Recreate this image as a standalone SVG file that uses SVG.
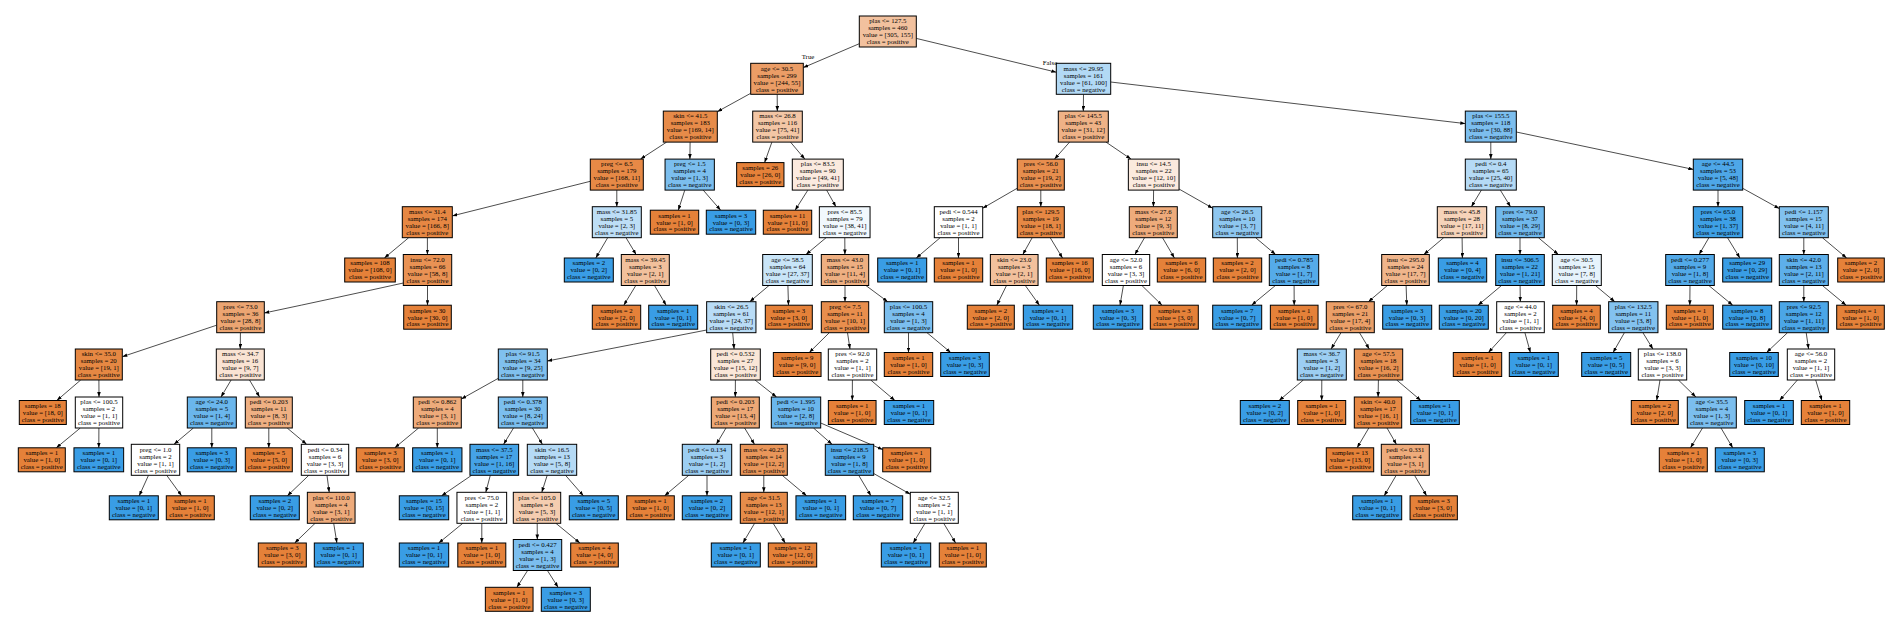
<svg xmlns="http://www.w3.org/2000/svg" width="1903" height="622" viewBox="0 0 1903 622">
<style>
.nd rect{stroke:#000;stroke-width:1}
.nd text,.lb{font-family:"Liberation Serif","Times New Roman",serif;font-size:6.8px;text-anchor:middle;fill:#000}
.o{fill:#e58139}.b{fill:#399de5}.w{fill:#ffffff}
.e path{stroke:#000;stroke-width:0.7;fill:none}
</style>
<defs>
<marker id="arr" markerUnits="userSpaceOnUse" markerWidth="5" markerHeight="3.6" refX="5" refY="1.8" orient="auto" viewBox="0 0 5 3.6"><path d="M0,0L5,1.8L0,3.6z" fill="#000" stroke="none"/></marker>
</defs>
<rect width="1903" height="622" fill="#fff"/>
<g id="connectors" class="e">
<path d="M859.3,43.7L803.3,67.6" marker-end="url(#arr)"/>
<path d="M916.3,38.4L1056.3,72.2" marker-end="url(#arr)"/>
<path d="M750.7,93.3L717.3,111.7" marker-end="url(#arr)"/>
<path d="M777.2,94.3L777.3,111.1" marker-end="url(#arr)"/>
<path d="M666.6,142.1L640.5,159.1" marker-end="url(#arr)"/>
<path d="M690.1,142.1L689.9,159.1" marker-end="url(#arr)"/>
<path d="M771.9,142.1L764.6,162.6" marker-end="url(#arr)"/>
<path d="M790.5,142.1L804.8,159.1" marker-end="url(#arr)"/>
<path d="M590.3,181.3L452.3,215.9" marker-end="url(#arr)"/>
<path d="M616.8,190.1L616.8,206.7" marker-end="url(#arr)"/>
<path d="M684.8,190.1L678.3,210.2" marker-end="url(#arr)"/>
<path d="M703.2,190.1L720.6,210.2" marker-end="url(#arr)"/>
<path d="M807.9,190.1L795.1,210.2" marker-end="url(#arr)"/>
<path d="M826.6,190.1L835.9,206.7" marker-end="url(#arr)"/>
<path d="M408.7,237.7L384.4,258" marker-end="url(#arr)"/>
<path d="M427.4,237.7L427.4,254.5" marker-end="url(#arr)"/>
<path d="M607.7,237.7L595.8,258" marker-end="url(#arr)"/>
<path d="M626,237.7L636.1,254.5" marker-end="url(#arr)"/>
<path d="M826.1,237.7L806,254.5" marker-end="url(#arr)"/>
<path d="M844.8,237.7L844.9,254.5" marker-end="url(#arr)"/>
<path d="M403.3,283Q340,297 264.3,313" marker-end="url(#arr)"/>
<path d="M427.5,285.5L427.5,305.2" marker-end="url(#arr)"/>
<path d="M635.8,285.5L623.8,305.2" marker-end="url(#arr)"/>
<path d="M654.5,285.5L666.1,305.2" marker-end="url(#arr)"/>
<path d="M769,285.5L749.8,301.7" marker-end="url(#arr)"/>
<path d="M787.9,285.5L788.5,305.2" marker-end="url(#arr)"/>
<path d="M845,285.5L845,301.7" marker-end="url(#arr)"/>
<path d="M865.9,285.5L887.7,301.7" marker-end="url(#arr)"/>
<path d="M216.7,325.2L122.3,356.7" marker-end="url(#arr)"/>
<path d="M240.4,332.7L240.3,349" marker-end="url(#arr)"/>
<path d="M706.7,330Q640,343 547.3,361" marker-end="url(#arr)"/>
<path d="M732.7,332.7L734.1,349" marker-end="url(#arr)"/>
<path d="M829.3,332.7L809.3,352.5" marker-end="url(#arr)"/>
<path d="M847.5,332.7L850,349" marker-end="url(#arr)"/>
<path d="M908.5,332.7L908.5,352.5" marker-end="url(#arr)"/>
<path d="M927,332.7L950.7,352.5" marker-end="url(#arr)"/>
<path d="M80.7,380L56.8,400.5" marker-end="url(#arr)"/>
<path d="M98.9,380L99,397" marker-end="url(#arr)"/>
<path d="M231.1,380L221,397" marker-end="url(#arr)"/>
<path d="M249.5,380L259.6,397" marker-end="url(#arr)"/>
<path d="M498.3,378.3L461.3,399" marker-end="url(#arr)"/>
<path d="M522.8,380L522.8,397" marker-end="url(#arr)"/>
<path d="M735.4,380L735.3,397" marker-end="url(#arr)"/>
<path d="M755,380L776.5,397" marker-end="url(#arr)"/>
<path d="M852.4,380L852.3,400.5" marker-end="url(#arr)"/>
<path d="M870.7,380L894.9,400.5" marker-end="url(#arr)"/>
<path d="M80.3,428L56.3,447.8" marker-end="url(#arr)"/>
<path d="M98.9,428L98.8,447.8" marker-end="url(#arr)"/>
<path d="M193.4,428L174,444.3" marker-end="url(#arr)"/>
<path d="M211.8,428L211.8,447.8" marker-end="url(#arr)"/>
<path d="M268.8,428L268.8,447.8" marker-end="url(#arr)"/>
<path d="M287.2,428L306.6,444.3" marker-end="url(#arr)"/>
<path d="M418.6,428L394.8,447.8" marker-end="url(#arr)"/>
<path d="M437.3,428L437.3,447.8" marker-end="url(#arr)"/>
<path d="M513.5,428L503.6,444.3" marker-end="url(#arr)"/>
<path d="M532.4,428L542.4,444.3" marker-end="url(#arr)"/>
<path d="M726,428L716.3,444.3" marker-end="url(#arr)"/>
<path d="M744.6,428L754.5,444.3" marker-end="url(#arr)"/>
<path d="M813.5,428L832,444.3" marker-end="url(#arr)"/>
<path d="M820.7,423L882.7,449.6" marker-end="url(#arr)"/>
<path d="M148.5,475.3L139.2,495.8" marker-end="url(#arr)"/>
<path d="M166.7,475.3L181.6,495.8" marker-end="url(#arr)"/>
<path d="M308.8,475.3L287.4,495.8" marker-end="url(#arr)"/>
<path d="M327,475.3L329.2,492.3" marker-end="url(#arr)"/>
<path d="M471.6,475.3L441.6,495.8" marker-end="url(#arr)"/>
<path d="M490.3,475.3L485.8,492.3" marker-end="url(#arr)"/>
<path d="M547.2,475.3L541.8,492.3" marker-end="url(#arr)"/>
<path d="M565.5,475.3L583.4,495.8" marker-end="url(#arr)"/>
<path d="M688.8,475.3L664.6,495.8" marker-end="url(#arr)"/>
<path d="M707,475.3L707,495.8" marker-end="url(#arr)"/>
<path d="M763.8,475.3L763.8,492.3" marker-end="url(#arr)"/>
<path d="M782.2,475.3L806.6,495.8" marker-end="url(#arr)"/>
<path d="M858.7,475.3L870.9,495.8" marker-end="url(#arr)"/>
<path d="M873.7,473.5L910.3,494.2" marker-end="url(#arr)"/>
<path d="M315.1,523.3L294.7,543" marker-end="url(#arr)"/>
<path d="M333.7,523.3L336.9,543" marker-end="url(#arr)"/>
<path d="M462.8,523.3L438.7,543" marker-end="url(#arr)"/>
<path d="M481.8,523.3L481.8,543" marker-end="url(#arr)"/>
<path d="M537.2,523.3L537.3,539.5" marker-end="url(#arr)"/>
<path d="M555.9,523.3L579.9,543" marker-end="url(#arr)"/>
<path d="M754.6,523.3L742.9,543" marker-end="url(#arr)"/>
<path d="M773.2,523.3L785.2,543" marker-end="url(#arr)"/>
<path d="M925,523.3L913.2,543" marker-end="url(#arr)"/>
<path d="M943.7,523.3L955.6,543" marker-end="url(#arr)"/>
<path d="M527.6,570.5L516.9,587.3" marker-end="url(#arr)"/>
<path d="M547.4,570.5L558.1,587.3" marker-end="url(#arr)"/>
<path d="M1083.5,94.3L1083.3,111.1" marker-end="url(#arr)"/>
<path d="M1110.7,82L1465.3,123.6" marker-end="url(#arr)"/>
<path d="M1069.6,142.1L1054.5,159.1" marker-end="url(#arr)"/>
<path d="M1106,142.1L1131,159.1" marker-end="url(#arr)"/>
<path d="M1490.8,142.1L1490.8,159.1" marker-end="url(#arr)"/>
<path d="M1516.3,132L1693.3,169.4" marker-end="url(#arr)"/>
<path d="M1017.3,188.2L982.7,208.2" marker-end="url(#arr)"/>
<path d="M1040.8,190.1L1040.8,206.7" marker-end="url(#arr)"/>
<path d="M1153.6,190.1L1153.4,206.7" marker-end="url(#arr)"/>
<path d="M1179,189L1212.7,208.2" marker-end="url(#arr)"/>
<path d="M1481.4,190.1L1471.4,206.7" marker-end="url(#arr)"/>
<path d="M1500.3,190.1L1510.5,206.7" marker-end="url(#arr)"/>
<path d="M1718,190.1L1718,206.7" marker-end="url(#arr)"/>
<path d="M1742.7,188.3L1779.3,208.6" marker-end="url(#arr)"/>
<path d="M940.2,237.7L916.3,258" marker-end="url(#arr)"/>
<path d="M958.5,237.7L958.5,258" marker-end="url(#arr)"/>
<path d="M1032.2,237.7L1022.8,254.5" marker-end="url(#arr)"/>
<path d="M1050.2,237.7L1062.5,258" marker-end="url(#arr)"/>
<path d="M1144.5,237.7L1134.9,254.5" marker-end="url(#arr)"/>
<path d="M1162.5,237.7L1174.4,258" marker-end="url(#arr)"/>
<path d="M1237.3,237.7L1237.4,258" marker-end="url(#arr)"/>
<path d="M1255.6,237.7L1275.6,254.5" marker-end="url(#arr)"/>
<path d="M1443.7,237.7L1423.8,254.5" marker-end="url(#arr)"/>
<path d="M1462.1,237.7L1462.4,258" marker-end="url(#arr)"/>
<path d="M1520,237.7L1520,254.5" marker-end="url(#arr)"/>
<path d="M1538.4,237.7L1558.4,254.5" marker-end="url(#arr)"/>
<path d="M1708.9,237.7L1699.1,254.5" marker-end="url(#arr)"/>
<path d="M1727.5,237.7L1739.9,258" marker-end="url(#arr)"/>
<path d="M1803.8,237.7L1803.8,254.5" marker-end="url(#arr)"/>
<path d="M1822.4,237.7L1846.6,258" marker-end="url(#arr)"/>
<path d="M1006.5,285.5L996.8,305.2" marker-end="url(#arr)"/>
<path d="M1025.3,285.5L1039.4,305.2" marker-end="url(#arr)"/>
<path d="M1123.4,285.5L1120,305.2" marker-end="url(#arr)"/>
<path d="M1141.9,285.5L1162,305.2" marker-end="url(#arr)"/>
<path d="M1275.4,285.5L1251.6,305.2" marker-end="url(#arr)"/>
<path d="M1294.1,285.5L1294.2,305.2" marker-end="url(#arr)"/>
<path d="M1387.4,285.5L1368.4,301.7" marker-end="url(#arr)"/>
<path d="M1406.1,285.5L1406.8,305.2" marker-end="url(#arr)"/>
<path d="M1501.5,285.5L1478.1,305.2" marker-end="url(#arr)"/>
<path d="M1520.1,285.5L1520.3,301.7" marker-end="url(#arr)"/>
<path d="M1576.7,285.5L1576.6,305.2" marker-end="url(#arr)"/>
<path d="M1595.4,285.5L1614.8,301.7" marker-end="url(#arr)"/>
<path d="M1690,285.5L1689.8,305.2" marker-end="url(#arr)"/>
<path d="M1708.8,285.5L1732.7,305.2" marker-end="url(#arr)"/>
<path d="M1803.8,285.5L1803.8,301.7" marker-end="url(#arr)"/>
<path d="M1822.4,285.5L1846.1,305.2" marker-end="url(#arr)"/>
<path d="M1341,332.7L1331.1,349" marker-end="url(#arr)"/>
<path d="M1359.5,332.7L1369.3,349" marker-end="url(#arr)"/>
<path d="M1506.4,332.7L1488.4,352.5" marker-end="url(#arr)"/>
<path d="M1524.9,332.7L1530.4,352.5" marker-end="url(#arr)"/>
<path d="M1624.4,332.7L1613.1,352.5" marker-end="url(#arr)"/>
<path d="M1642.9,332.7L1652.9,349" marker-end="url(#arr)"/>
<path d="M1787.5,332.7L1766.6,352.5" marker-end="url(#arr)"/>
<path d="M1806.2,332.7L1808.6,349" marker-end="url(#arr)"/>
<path d="M1303.4,380L1279.1,400.5" marker-end="url(#arr)"/>
<path d="M1321.8,380L1321.7,400.5" marker-end="url(#arr)"/>
<path d="M1378.4,380L1378.1,397" marker-end="url(#arr)"/>
<path d="M1396.7,380L1420.9,400.5" marker-end="url(#arr)"/>
<path d="M1660,380L1656.7,400.5" marker-end="url(#arr)"/>
<path d="M1678.4,380L1695.9,397" marker-end="url(#arr)"/>
<path d="M1797.4,380L1779.5,400.5" marker-end="url(#arr)"/>
<path d="M1815.7,380L1821.9,400.5" marker-end="url(#arr)"/>
<path d="M1368.8,428L1357.1,447.8" marker-end="url(#arr)"/>
<path d="M1387,428L1396.4,444.3" marker-end="url(#arr)"/>
<path d="M1702.5,428L1690.5,447.8" marker-end="url(#arr)"/>
<path d="M1721,428L1732.7,447.8" marker-end="url(#arr)"/>
<path d="M1396.2,475.3L1384.2,495.8" marker-end="url(#arr)"/>
<path d="M1414.5,475.3L1426.6,495.8" marker-end="url(#arr)"/>
<text class="lb" x="808" y="59.2">True</text>
<text class="lb" x="1050" y="64.6">False</text>
</g>
<g id="n0" class="nd" transform="translate(887.8 31.5)"><rect x="-28.5" y="-15.5" width="57" height="31" fill="#f2c19e"/><text><tspan x="0" y="-8.2">plas &lt;= 127.5</tspan><tspan x="0" y="-1.2">samples = 460</tspan><tspan x="0" y="5.8">value = [305, 155]</tspan><tspan x="0" y="12.8">class = positive</tspan></text></g>
<g id="n1" class="nd" transform="translate(777 78.8)"><rect x="-26.3" y="-15.5" width="52.6" height="31" fill="#eb9d66"/><text><tspan x="0" y="-8.2">age &lt;= 30.5</tspan><tspan x="0" y="-1.2">samples = 299</tspan><tspan x="0" y="5.8">value = [244, 55]</tspan><tspan x="0" y="12.8">class = positive</tspan></text></g>
<g id="n2" class="nd" transform="translate(690.3 126.6)"><rect x="-27" y="-15.5" width="54" height="31" fill="#e78b49"/><text><tspan x="0" y="-8.2">skin &lt;= 41.5</tspan><tspan x="0" y="-1.2">samples = 183</tspan><tspan x="0" y="5.8">value = [169, 14]</tspan><tspan x="0" y="12.8">class = positive</tspan></text></g>
<g id="n3" class="nd" transform="translate(616.8 174.6)"><rect x="-26.5" y="-15.5" width="53" height="31" fill="#e78946"/><text><tspan x="0" y="-8.2">preg &lt;= 6.5</tspan><tspan x="0" y="-1.2">samples = 179</tspan><tspan x="0" y="5.8">value = [168, 11]</tspan><tspan x="0" y="12.8">class = positive</tspan></text></g>
<g id="n4" class="nd" transform="translate(427.3 222.2)"><rect x="-25" y="-15.5" width="50" height="31" fill="#e68743"/><text><tspan x="0" y="-8.2">mass &lt;= 31.4</tspan><tspan x="0" y="-1.2">samples = 174</tspan><tspan x="0" y="5.8">value = [166, 8]</tspan><tspan x="0" y="12.8">class = positive</tspan></text></g>
<g id="n5" class="nd" transform="translate(370 270)"><rect class="o" x="-25.3" y="-12" width="50.6" height="24"/><text><tspan x="0" y="-4.7">samples = 108</tspan><tspan x="0" y="2.3">value = [108, 0]</tspan><tspan x="0" y="9.3">class = positive</tspan></text></g>
<g id="n6" class="nd" transform="translate(427.5 270)"><rect x="-24.2" y="-15.5" width="48.4" height="31" fill="#e99254"/><text><tspan x="0" y="-8.2">insu &lt;= 72.0</tspan><tspan x="0" y="-1.2">samples = 66</tspan><tspan x="0" y="5.8">value = [58, 8]</tspan><tspan x="0" y="12.8">class = positive</tspan></text></g>
<g id="n7" class="nd" transform="translate(240.5 317.2)"><rect x="-23.8" y="-15.5" width="47.6" height="31" fill="#eca572"/><text><tspan x="0" y="-8.2">pres &lt;= 73.0</tspan><tspan x="0" y="-1.2">samples = 36</tspan><tspan x="0" y="5.8">value = [28, 8]</tspan><tspan x="0" y="12.8">class = positive</tspan></text></g>
<g id="n8" class="nd" transform="translate(98.8 364.5)"><rect x="-23.5" y="-15.5" width="47" height="31" fill="#e68843"/><text><tspan x="0" y="-8.2">skin &lt;= 35.0</tspan><tspan x="0" y="-1.2">samples = 20</tspan><tspan x="0" y="5.8">value = [19, 1]</tspan><tspan x="0" y="12.8">class = positive</tspan></text></g>
<g id="n9" class="nd" transform="translate(42.8 412.5)"><rect class="o" x="-23.5" y="-12" width="47" height="24"/><text><tspan x="0" y="-4.7">samples = 18</tspan><tspan x="0" y="2.3">value = [18, 0]</tspan><tspan x="0" y="9.3">class = positive</tspan></text></g>
<g id="n10" class="nd" transform="translate(99 412.5)"><rect class="w" x="-23.7" y="-15.5" width="47.4" height="31"/><text><tspan x="0" y="-8.2">plas &lt;= 100.5</tspan><tspan x="0" y="-1.2">samples = 2</tspan><tspan x="0" y="5.8">value = [1, 1]</tspan><tspan x="0" y="12.8">class = positive</tspan></text></g>
<g id="n11" class="nd" transform="translate(41.8 459.8)"><rect class="o" x="-23.5" y="-12" width="47" height="24"/><text><tspan x="0" y="-4.7">samples = 1</tspan><tspan x="0" y="2.3">value = [1, 0]</tspan><tspan x="0" y="9.3">class = positive</tspan></text></g>
<g id="n12" class="nd" transform="translate(98.8 459.8)"><rect class="b" x="-24.85" y="-12" width="49.7" height="24"/><text><tspan x="0" y="-4.7">samples = 1</tspan><tspan x="0" y="2.3">value = [0, 1]</tspan><tspan x="0" y="9.3">class = negative</tspan></text></g>
<g id="n13" class="nd" transform="translate(240.3 364.5)"><rect x="-24" y="-15.5" width="48" height="31" fill="#f9e3d3"/><text><tspan x="0" y="-8.2">mass &lt;= 34.7</tspan><tspan x="0" y="-1.2">samples = 16</tspan><tspan x="0" y="5.8">value = [9, 7]</tspan><tspan x="0" y="12.8">class = positive</tspan></text></g>
<g id="n14" class="nd" transform="translate(211.8 412.5)"><rect x="-24.5" y="-15.5" width="49" height="31" fill="#6ab6ec"/><text><tspan x="0" y="-8.2">age &lt;= 24.0</tspan><tspan x="0" y="-1.2">samples = 5</tspan><tspan x="0" y="5.8">value = [1, 4]</tspan><tspan x="0" y="12.8">class = negative</tspan></text></g>
<g id="n15" class="nd" transform="translate(155.5 459.8)"><rect class="w" x="-24.2" y="-15.5" width="48.4" height="31"/><text><tspan x="0" y="-8.2">preg &lt;= 1.0</tspan><tspan x="0" y="-1.2">samples = 2</tspan><tspan x="0" y="5.8">value = [1, 1]</tspan><tspan x="0" y="12.8">class = positive</tspan></text></g>
<g id="n16" class="nd" transform="translate(133.8 507.8)"><rect class="b" x="-24.5" y="-12" width="49" height="24"/><text><tspan x="0" y="-4.7">samples = 1</tspan><tspan x="0" y="2.3">value = [0, 1]</tspan><tspan x="0" y="9.3">class = negative</tspan></text></g>
<g id="n17" class="nd" transform="translate(190.3 507.8)"><rect class="o" x="-24" y="-12" width="48" height="24"/><text><tspan x="0" y="-4.7">samples = 1</tspan><tspan x="0" y="2.3">value = [1, 0]</tspan><tspan x="0" y="9.3">class = positive</tspan></text></g>
<g id="n18" class="nd" transform="translate(211.8 459.8)"><rect class="b" x="-24.5" y="-12" width="49" height="24"/><text><tspan x="0" y="-4.7">samples = 3</tspan><tspan x="0" y="2.3">value = [0, 3]</tspan><tspan x="0" y="9.3">class = negative</tspan></text></g>
<g id="n19" class="nd" transform="translate(268.8 412.5)"><rect x="-23.5" y="-15.5" width="47" height="31" fill="#efb083"/><text><tspan x="0" y="-8.2">pedi &lt;= 0.203</tspan><tspan x="0" y="-1.2">samples = 11</tspan><tspan x="0" y="5.8">value = [8, 3]</tspan><tspan x="0" y="12.8">class = positive</tspan></text></g>
<g id="n20" class="nd" transform="translate(268.8 459.8)"><rect class="o" x="-23.5" y="-12" width="47" height="24"/><text><tspan x="0" y="-4.7">samples = 5</tspan><tspan x="0" y="2.3">value = [5, 0]</tspan><tspan x="0" y="9.3">class = positive</tspan></text></g>
<g id="n21" class="nd" transform="translate(325 459.8)"><rect class="w" x="-23.7" y="-15.5" width="47.4" height="31"/><text><tspan x="0" y="-8.2">pedi &lt;= 0.34</tspan><tspan x="0" y="-1.2">samples = 6</tspan><tspan x="0" y="5.8">value = [3, 3]</tspan><tspan x="0" y="12.8">class = positive</tspan></text></g>
<g id="n22" class="nd" transform="translate(274.8 507.8)"><rect class="b" x="-24.5" y="-12" width="49" height="24"/><text><tspan x="0" y="-4.7">samples = 2</tspan><tspan x="0" y="2.3">value = [0, 2]</tspan><tspan x="0" y="9.3">class = negative</tspan></text></g>
<g id="n23" class="nd" transform="translate(331.2 507.8)"><rect x="-23.85" y="-15.5" width="47.7" height="31" fill="#eeab7b"/><text><tspan x="0" y="-8.2">plas &lt;= 110.0</tspan><tspan x="0" y="-1.2">samples = 4</tspan><tspan x="0" y="5.8">value = [3, 1]</tspan><tspan x="0" y="12.8">class = positive</tspan></text></g>
<g id="n24" class="nd" transform="translate(282.3 555)"><rect class="o" x="-24" y="-12" width="48" height="24"/><text><tspan x="0" y="-4.7">samples = 3</tspan><tspan x="0" y="2.3">value = [3, 0]</tspan><tspan x="0" y="9.3">class = positive</tspan></text></g>
<g id="n25" class="nd" transform="translate(338.8 555)"><rect class="b" x="-24.5" y="-12" width="49" height="24"/><text><tspan x="0" y="-4.7">samples = 1</tspan><tspan x="0" y="2.3">value = [0, 1]</tspan><tspan x="0" y="9.3">class = negative</tspan></text></g>
<g id="n26" class="nd" transform="translate(427.5 317.2)"><rect class="o" x="-23.8" y="-12" width="47.6" height="24"/><text><tspan x="0" y="-4.7">samples = 30</tspan><tspan x="0" y="2.3">value = [30, 0]</tspan><tspan x="0" y="9.3">class = positive</tspan></text></g>
<g id="n27" class="nd" transform="translate(616.8 222.2)"><rect x="-24.5" y="-15.5" width="49" height="31" fill="#bddef6"/><text><tspan x="0" y="-8.2">mass &lt;= 31.85</tspan><tspan x="0" y="-1.2">samples = 5</tspan><tspan x="0" y="5.8">value = [2, 3]</tspan><tspan x="0" y="12.8">class = negative</tspan></text></g>
<g id="n28" class="nd" transform="translate(588.8 270)"><rect class="b" x="-24.5" y="-12" width="49" height="24"/><text><tspan x="0" y="-4.7">samples = 2</tspan><tspan x="0" y="2.3">value = [0, 2]</tspan><tspan x="0" y="9.3">class = negative</tspan></text></g>
<g id="n29" class="nd" transform="translate(645.3 270)"><rect x="-24" y="-15.5" width="48" height="31" fill="#f2c09c"/><text><tspan x="0" y="-8.2">mass &lt;= 39.45</tspan><tspan x="0" y="-1.2">samples = 3</tspan><tspan x="0" y="5.8">value = [2, 1]</tspan><tspan x="0" y="12.8">class = positive</tspan></text></g>
<g id="n30" class="nd" transform="translate(616.5 317.2)"><rect class="o" x="-24.2" y="-12" width="48.4" height="24"/><text><tspan x="0" y="-4.7">samples = 2</tspan><tspan x="0" y="2.3">value = [2, 0]</tspan><tspan x="0" y="9.3">class = positive</tspan></text></g>
<g id="n31" class="nd" transform="translate(673.2 317.2)"><rect class="b" x="-24.5" y="-12" width="49" height="24"/><text><tspan x="0" y="-4.7">samples = 1</tspan><tspan x="0" y="2.3">value = [0, 1]</tspan><tspan x="0" y="9.3">class = negative</tspan></text></g>
<g id="n32" class="nd" transform="translate(689.7 174.6)"><rect x="-24.65" y="-15.5" width="49.3" height="31" fill="#7bbeee"/><text><tspan x="0" y="-8.2">preg &lt;= 1.5</tspan><tspan x="0" y="-1.2">samples = 4</tspan><tspan x="0" y="5.8">value = [1, 3]</tspan><tspan x="0" y="12.8">class = negative</tspan></text></g>
<g id="n33" class="nd" transform="translate(674.5 222.2)"><rect class="o" x="-24.2" y="-12" width="48.4" height="24"/><text><tspan x="0" y="-4.7">samples = 1</tspan><tspan x="0" y="2.3">value = [1, 0]</tspan><tspan x="0" y="9.3">class = positive</tspan></text></g>
<g id="n34" class="nd" transform="translate(731 222.2)"><rect class="b" x="-24.7" y="-12" width="49.4" height="24"/><text><tspan x="0" y="-4.7">samples = 3</tspan><tspan x="0" y="2.3">value = [0, 3]</tspan><tspan x="0" y="9.3">class = negative</tspan></text></g>
<g id="n35" class="nd" transform="translate(777.5 126.6)"><rect x="-24.8" y="-15.5" width="49.6" height="31" fill="#f3c6a5"/><text><tspan x="0" y="-8.2">mass &lt;= 26.8</tspan><tspan x="0" y="-1.2">samples = 116</tspan><tspan x="0" y="5.8">value = [75, 41]</tspan><tspan x="0" y="12.8">class = positive</tspan></text></g>
<g id="n36" class="nd" transform="translate(760.3 174.6)"><rect class="o" x="-23.65" y="-12" width="47.3" height="24"/><text><tspan x="0" y="-4.7">samples = 26</tspan><tspan x="0" y="2.3">value = [26, 0]</tspan><tspan x="0" y="9.3">class = positive</tspan></text></g>
<g id="n37" class="nd" transform="translate(817.8 174.6)"><rect x="-25.5" y="-15.5" width="51" height="31" fill="#fbeadf"/><text><tspan x="0" y="-8.2">plas &lt;= 83.5</tspan><tspan x="0" y="-1.2">samples = 90</tspan><tspan x="0" y="5.8">value = [49, 41]</tspan><tspan x="0" y="12.8">class = positive</tspan></text></g>
<g id="n38" class="nd" transform="translate(787.5 222.2)"><rect class="o" x="-24.2" y="-12" width="48.4" height="24"/><text><tspan x="0" y="-4.7">samples = 11</tspan><tspan x="0" y="2.3">value = [11, 0]</tspan><tspan x="0" y="9.3">class = positive</tspan></text></g>
<g id="n39" class="nd" transform="translate(844.7 222.2)"><rect x="-25.35" y="-15.5" width="50.7" height="31" fill="#f1f8fd"/><text><tspan x="0" y="-8.2">pres &lt;= 85.5</tspan><tspan x="0" y="-1.2">samples = 79</tspan><tspan x="0" y="5.8">value = [38, 41]</tspan><tspan x="0" y="12.8">class = negative</tspan></text></g>
<g id="n40" class="nd" transform="translate(787.5 270)"><rect x="-24.8" y="-15.5" width="49.6" height="31" fill="#c9e5f8"/><text><tspan x="0" y="-8.2">age &lt;= 58.5</tspan><tspan x="0" y="-1.2">samples = 64</tspan><tspan x="0" y="5.8">value = [27, 37]</tspan><tspan x="0" y="12.8">class = negative</tspan></text></g>
<g id="n41" class="nd" transform="translate(731.3 317.2)"><rect x="-24.65" y="-15.5" width="49.3" height="31" fill="#b9dcf6"/><text><tspan x="0" y="-8.2">skin &lt;= 26.5</tspan><tspan x="0" y="-1.2">samples = 61</tspan><tspan x="0" y="5.8">value = [24, 37]</tspan><tspan x="0" y="12.8">class = negative</tspan></text></g>
<g id="n42" class="nd" transform="translate(522.8 364.5)"><rect x="-24.5" y="-15.5" width="49" height="31" fill="#80c0ee"/><text><tspan x="0" y="-8.2">plas &lt;= 91.5</tspan><tspan x="0" y="-1.2">samples = 34</tspan><tspan x="0" y="5.8">value = [9, 25]</tspan><tspan x="0" y="12.8">class = negative</tspan></text></g>
<g id="n43" class="nd" transform="translate(437.3 412.5)"><rect x="-24" y="-15.5" width="48" height="31" fill="#eeab7b"/><text><tspan x="0" y="-8.2">pedi &lt;= 0.862</tspan><tspan x="0" y="-1.2">samples = 4</tspan><tspan x="0" y="5.8">value = [3, 1]</tspan><tspan x="0" y="12.8">class = positive</tspan></text></g>
<g id="n44" class="nd" transform="translate(380.3 459.8)"><rect class="o" x="-24" y="-12" width="48" height="24"/><text><tspan x="0" y="-4.7">samples = 3</tspan><tspan x="0" y="2.3">value = [3, 0]</tspan><tspan x="0" y="9.3">class = positive</tspan></text></g>
<g id="n45" class="nd" transform="translate(437.3 459.8)"><rect class="b" x="-24.65" y="-12" width="49.3" height="24"/><text><tspan x="0" y="-4.7">samples = 1</tspan><tspan x="0" y="2.3">value = [0, 1]</tspan><tspan x="0" y="9.3">class = negative</tspan></text></g>
<g id="n46" class="nd" transform="translate(522.8 412.5)"><rect x="-24.5" y="-15.5" width="49" height="31" fill="#7bbeee"/><text><tspan x="0" y="-8.2">pedi &lt;= 0.378</tspan><tspan x="0" y="-1.2">samples = 30</tspan><tspan x="0" y="5.8">value = [8, 24]</tspan><tspan x="0" y="12.8">class = negative</tspan></text></g>
<g id="n47" class="nd" transform="translate(494.3 459.8)"><rect x="-24.35" y="-15.5" width="48.7" height="31" fill="#45a3e7"/><text><tspan x="0" y="-8.2">mass &lt;= 37.5</tspan><tspan x="0" y="-1.2">samples = 17</tspan><tspan x="0" y="5.8">value = [1, 16]</tspan><tspan x="0" y="12.8">class = negative</tspan></text></g>
<g id="n48" class="nd" transform="translate(424 507.8)"><rect class="b" x="-24.7" y="-12" width="49.4" height="24"/><text><tspan x="0" y="-4.7">samples = 15</tspan><tspan x="0" y="2.3">value = [0, 15]</tspan><tspan x="0" y="9.3">class = negative</tspan></text></g>
<g id="n49" class="nd" transform="translate(481.8 507.8)"><rect class="w" x="-24.85" y="-15.5" width="49.7" height="31"/><text><tspan x="0" y="-8.2">pres &lt;= 75.0</tspan><tspan x="0" y="-1.2">samples = 2</tspan><tspan x="0" y="5.8">value = [1, 1]</tspan><tspan x="0" y="12.8">class = positive</tspan></text></g>
<g id="n50" class="nd" transform="translate(424 555)"><rect class="b" x="-24.7" y="-12" width="49.4" height="24"/><text><tspan x="0" y="-4.7">samples = 1</tspan><tspan x="0" y="2.3">value = [0, 1]</tspan><tspan x="0" y="9.3">class = negative</tspan></text></g>
<g id="n51" class="nd" transform="translate(481.8 555)"><rect class="o" x="-24" y="-12" width="48" height="24"/><text><tspan x="0" y="-4.7">samples = 1</tspan><tspan x="0" y="2.3">value = [1, 0]</tspan><tspan x="0" y="9.3">class = positive</tspan></text></g>
<g id="n52" class="nd" transform="translate(552 459.8)"><rect x="-24.7" y="-15.5" width="49.4" height="31" fill="#b5daf5"/><text><tspan x="0" y="-8.2">skin &lt;= 16.5</tspan><tspan x="0" y="-1.2">samples = 13</tspan><tspan x="0" y="5.8">value = [5, 8]</tspan><tspan x="0" y="12.8">class = negative</tspan></text></g>
<g id="n53" class="nd" transform="translate(537 507.8)"><rect x="-23.7" y="-15.5" width="47.4" height="31" fill="#f5cdb0"/><text><tspan x="0" y="-8.2">plas &lt;= 105.0</tspan><tspan x="0" y="-1.2">samples = 8</tspan><tspan x="0" y="5.8">value = [5, 3]</tspan><tspan x="0" y="12.8">class = positive</tspan></text></g>
<g id="n54" class="nd" transform="translate(537.5 555)"><rect x="-24.2" y="-15.5" width="48.4" height="31" fill="#7bbeee"/><text><tspan x="0" y="-8.2">pedi &lt;= 0.427</tspan><tspan x="0" y="-1.2">samples = 4</tspan><tspan x="0" y="5.8">value = [1, 3]</tspan><tspan x="0" y="12.8">class = negative</tspan></text></g>
<g id="n55" class="nd" transform="translate(509.2 599.3)"><rect class="o" x="-23.85" y="-12" width="47.7" height="24"/><text><tspan x="0" y="-4.7">samples = 1</tspan><tspan x="0" y="2.3">value = [1, 0]</tspan><tspan x="0" y="9.3">class = positive</tspan></text></g>
<g id="n56" class="nd" transform="translate(565.8 599.3)"><rect class="b" x="-24.5" y="-12" width="49" height="24"/><text><tspan x="0" y="-4.7">samples = 3</tspan><tspan x="0" y="2.3">value = [0, 3]</tspan><tspan x="0" y="9.3">class = negative</tspan></text></g>
<g id="n57" class="nd" transform="translate(594.5 555)"><rect class="o" x="-23.8" y="-12" width="47.6" height="24"/><text><tspan x="0" y="-4.7">samples = 4</tspan><tspan x="0" y="2.3">value = [4, 0]</tspan><tspan x="0" y="9.3">class = positive</tspan></text></g>
<g id="n58" class="nd" transform="translate(593.8 507.8)"><rect class="b" x="-24.5" y="-12" width="49" height="24"/><text><tspan x="0" y="-4.7">samples = 5</tspan><tspan x="0" y="2.3">value = [0, 5]</tspan><tspan x="0" y="9.3">class = negative</tspan></text></g>
<g id="n59" class="nd" transform="translate(735.5 364.5)"><rect x="-24.8" y="-15.5" width="49.6" height="31" fill="#fae6d7"/><text><tspan x="0" y="-8.2">pedi &lt;= 0.532</tspan><tspan x="0" y="-1.2">samples = 27</tspan><tspan x="0" y="5.8">value = [15, 12]</tspan><tspan x="0" y="12.8">class = positive</tspan></text></g>
<g id="n60" class="nd" transform="translate(735.3 412.5)"><rect x="-24" y="-15.5" width="48" height="31" fill="#eda876"/><text><tspan x="0" y="-8.2">pedi &lt;= 0.203</tspan><tspan x="0" y="-1.2">samples = 17</tspan><tspan x="0" y="5.8">value = [13, 4]</tspan><tspan x="0" y="12.8">class = positive</tspan></text></g>
<g id="n61" class="nd" transform="translate(707 459.8)"><rect x="-24.7" y="-15.5" width="49.4" height="31" fill="#9ccef2"/><text><tspan x="0" y="-8.2">pedi &lt;= 0.134</tspan><tspan x="0" y="-1.2">samples = 3</tspan><tspan x="0" y="5.8">value = [1, 2]</tspan><tspan x="0" y="12.8">class = negative</tspan></text></g>
<g id="n62" class="nd" transform="translate(650.5 507.8)"><rect class="o" x="-23.8" y="-12" width="47.6" height="24"/><text><tspan x="0" y="-4.7">samples = 1</tspan><tspan x="0" y="2.3">value = [1, 0]</tspan><tspan x="0" y="9.3">class = positive</tspan></text></g>
<g id="n63" class="nd" transform="translate(707 507.8)"><rect class="b" x="-24.7" y="-12" width="49.4" height="24"/><text><tspan x="0" y="-4.7">samples = 2</tspan><tspan x="0" y="2.3">value = [0, 2]</tspan><tspan x="0" y="9.3">class = negative</tspan></text></g>
<g id="n64" class="nd" transform="translate(763.8 459.8)"><rect x="-23.5" y="-15.5" width="47" height="31" fill="#e9965a"/><text><tspan x="0" y="-8.2">mass &lt;= 40.25</tspan><tspan x="0" y="-1.2">samples = 14</tspan><tspan x="0" y="5.8">value = [12, 2]</tspan><tspan x="0" y="12.8">class = positive</tspan></text></g>
<g id="n65" class="nd" transform="translate(763.8 507.8)"><rect x="-23.5" y="-15.5" width="47" height="31" fill="#e78c4a"/><text><tspan x="0" y="-8.2">age &lt;= 31.5</tspan><tspan x="0" y="-1.2">samples = 13</tspan><tspan x="0" y="5.8">value = [12, 1]</tspan><tspan x="0" y="12.8">class = positive</tspan></text></g>
<g id="n66" class="nd" transform="translate(735.8 555)"><rect class="b" x="-24.5" y="-12" width="49" height="24"/><text><tspan x="0" y="-4.7">samples = 1</tspan><tspan x="0" y="2.3">value = [0, 1]</tspan><tspan x="0" y="9.3">class = negative</tspan></text></g>
<g id="n67" class="nd" transform="translate(792.5 555)"><rect class="o" x="-24.2" y="-12" width="48.4" height="24"/><text><tspan x="0" y="-4.7">samples = 12</tspan><tspan x="0" y="2.3">value = [12, 0]</tspan><tspan x="0" y="9.3">class = positive</tspan></text></g>
<g id="n68" class="nd" transform="translate(820.8 507.8)"><rect class="b" x="-24.85" y="-12" width="49.7" height="24"/><text><tspan x="0" y="-4.7">samples = 1</tspan><tspan x="0" y="2.3">value = [0, 1]</tspan><tspan x="0" y="9.3">class = negative</tspan></text></g>
<g id="n69" class="nd" transform="translate(796 412.5)"><rect x="-24.7" y="-15.5" width="49.4" height="31" fill="#6ab6ec"/><text><tspan x="0" y="-8.2">pedi &lt;= 1.395</tspan><tspan x="0" y="-1.2">samples = 10</tspan><tspan x="0" y="5.8">value = [2, 8]</tspan><tspan x="0" y="12.8">class = negative</tspan></text></g>
<g id="n70" class="nd" transform="translate(849.5 459.8)"><rect x="-24.2" y="-15.5" width="48.4" height="31" fill="#52a9e8"/><text><tspan x="0" y="-8.2">insu &lt;= 218.5</tspan><tspan x="0" y="-1.2">samples = 9</tspan><tspan x="0" y="5.8">value = [1, 8]</tspan><tspan x="0" y="12.8">class = negative</tspan></text></g>
<g id="n71" class="nd" transform="translate(878 507.8)"><rect class="b" x="-24.7" y="-12" width="49.4" height="24"/><text><tspan x="0" y="-4.7">samples = 7</tspan><tspan x="0" y="2.3">value = [0, 7]</tspan><tspan x="0" y="9.3">class = negative</tspan></text></g>
<g id="n72" class="nd" transform="translate(934.3 507.8)"><rect class="w" x="-24" y="-15.5" width="48" height="31"/><text><tspan x="0" y="-8.2">age &lt;= 32.5</tspan><tspan x="0" y="-1.2">samples = 2</tspan><tspan x="0" y="5.8">value = [1, 1]</tspan><tspan x="0" y="12.8">class = positive</tspan></text></g>
<g id="n73" class="nd" transform="translate(906 555)"><rect class="b" x="-24.7" y="-12" width="49.4" height="24"/><text><tspan x="0" y="-4.7">samples = 1</tspan><tspan x="0" y="2.3">value = [0, 1]</tspan><tspan x="0" y="9.3">class = negative</tspan></text></g>
<g id="n74" class="nd" transform="translate(962.8 555)"><rect class="o" x="-23.5" y="-12" width="47" height="24"/><text><tspan x="0" y="-4.7">samples = 1</tspan><tspan x="0" y="2.3">value = [1, 0]</tspan><tspan x="0" y="9.3">class = positive</tspan></text></g>
<g id="n75" class="nd" transform="translate(906.7 459.8)"><rect class="o" x="-24" y="-12" width="48" height="24"/><text><tspan x="0" y="-4.7">samples = 1</tspan><tspan x="0" y="2.3">value = [1, 0]</tspan><tspan x="0" y="9.3">class = positive</tspan></text></g>
<g id="n76" class="nd" transform="translate(788.8 317.2)"><rect class="o" x="-23.5" y="-12" width="47" height="24"/><text><tspan x="0" y="-4.7">samples = 3</tspan><tspan x="0" y="2.3">value = [3, 0]</tspan><tspan x="0" y="9.3">class = positive</tspan></text></g>
<g id="n77" class="nd" transform="translate(845 270)"><rect x="-23.7" y="-15.5" width="47.4" height="31" fill="#eeaf81"/><text><tspan x="0" y="-8.2">mass &lt;= 43.0</tspan><tspan x="0" y="-1.2">samples = 15</tspan><tspan x="0" y="5.8">value = [11, 4]</tspan><tspan x="0" y="12.8">class = positive</tspan></text></g>
<g id="n78" class="nd" transform="translate(845 317.2)"><rect x="-23.7" y="-15.5" width="47.4" height="31" fill="#e88e4d"/><text><tspan x="0" y="-8.2">preg &lt;= 7.5</tspan><tspan x="0" y="-1.2">samples = 11</tspan><tspan x="0" y="5.8">value = [10, 1]</tspan><tspan x="0" y="12.8">class = positive</tspan></text></g>
<g id="n79" class="nd" transform="translate(797.2 364.5)"><rect class="o" x="-23.85" y="-12" width="47.7" height="24"/><text><tspan x="0" y="-4.7">samples = 9</tspan><tspan x="0" y="2.3">value = [9, 0]</tspan><tspan x="0" y="9.3">class = positive</tspan></text></g>
<g id="n80" class="nd" transform="translate(852.5 364.5)"><rect class="w" x="-24.2" y="-15.5" width="48.4" height="31"/><text><tspan x="0" y="-8.2">pres &lt;= 92.0</tspan><tspan x="0" y="-1.2">samples = 2</tspan><tspan x="0" y="5.8">value = [1, 1]</tspan><tspan x="0" y="12.8">class = positive</tspan></text></g>
<g id="n81" class="nd" transform="translate(852.2 412.5)"><rect class="o" x="-23.85" y="-12" width="47.7" height="24"/><text><tspan x="0" y="-4.7">samples = 1</tspan><tspan x="0" y="2.3">value = [1, 0]</tspan><tspan x="0" y="9.3">class = positive</tspan></text></g>
<g id="n82" class="nd" transform="translate(909 412.5)"><rect class="b" x="-24.7" y="-12" width="49.4" height="24"/><text><tspan x="0" y="-4.7">samples = 1</tspan><tspan x="0" y="2.3">value = [0, 1]</tspan><tspan x="0" y="9.3">class = negative</tspan></text></g>
<g id="n83" class="nd" transform="translate(908.5 317.2)"><rect x="-24.2" y="-15.5" width="48.4" height="31" fill="#7bbeee"/><text><tspan x="0" y="-8.2">plas &lt;= 100.5</tspan><tspan x="0" y="-1.2">samples = 4</tspan><tspan x="0" y="5.8">value = [1, 3]</tspan><tspan x="0" y="12.8">class = negative</tspan></text></g>
<g id="n84" class="nd" transform="translate(908.5 364.5)"><rect class="o" x="-24.2" y="-12" width="48.4" height="24"/><text><tspan x="0" y="-4.7">samples = 1</tspan><tspan x="0" y="2.3">value = [1, 0]</tspan><tspan x="0" y="9.3">class = positive</tspan></text></g>
<g id="n85" class="nd" transform="translate(965 364.5)"><rect class="b" x="-24.3" y="-12" width="48.6" height="24"/><text><tspan x="0" y="-4.7">samples = 3</tspan><tspan x="0" y="2.3">value = [0, 3]</tspan><tspan x="0" y="9.3">class = negative</tspan></text></g>
<g id="n86" class="nd" transform="translate(1083.5 78.8)"><rect x="-27.2" y="-15.5" width="54.4" height="31" fill="#b2d9f5"/><text><tspan x="0" y="-8.2">mass &lt;= 29.95</tspan><tspan x="0" y="-1.2">samples = 161</tspan><tspan x="0" y="5.8">value = [61, 100]</tspan><tspan x="0" y="12.8">class = negative</tspan></text></g>
<g id="n87" class="nd" transform="translate(1083.3 126.6)"><rect x="-25" y="-15.5" width="50" height="31" fill="#efb286"/><text><tspan x="0" y="-8.2">plas &lt;= 145.5</tspan><tspan x="0" y="-1.2">samples = 43</tspan><tspan x="0" y="5.8">value = [31, 12]</tspan><tspan x="0" y="12.8">class = positive</tspan></text></g>
<g id="n88" class="nd" transform="translate(1040.8 174.6)"><rect x="-23.5" y="-15.5" width="47" height="31" fill="#e88e4e"/><text><tspan x="0" y="-8.2">pres &lt;= 56.0</tspan><tspan x="0" y="-1.2">samples = 21</tspan><tspan x="0" y="5.8">value = [19, 2]</tspan><tspan x="0" y="12.8">class = positive</tspan></text></g>
<g id="n89" class="nd" transform="translate(958.5 222.2)"><rect class="w" x="-24.2" y="-15.5" width="48.4" height="31"/><text><tspan x="0" y="-8.2">pedi &lt;= 0.544</tspan><tspan x="0" y="-1.2">samples = 2</tspan><tspan x="0" y="5.8">value = [1, 1]</tspan><tspan x="0" y="12.8">class = positive</tspan></text></g>
<g id="n90" class="nd" transform="translate(902.2 270)"><rect class="b" x="-24.5" y="-12" width="49" height="24"/><text><tspan x="0" y="-4.7">samples = 1</tspan><tspan x="0" y="2.3">value = [0, 1]</tspan><tspan x="0" y="9.3">class = negative</tspan></text></g>
<g id="n91" class="nd" transform="translate(958.5 270)"><rect class="o" x="-24.2" y="-12" width="48.4" height="24"/><text><tspan x="0" y="-4.7">samples = 1</tspan><tspan x="0" y="2.3">value = [1, 0]</tspan><tspan x="0" y="9.3">class = positive</tspan></text></g>
<g id="n92" class="nd" transform="translate(1040.8 222.2)"><rect x="-23.5" y="-15.5" width="47" height="31" fill="#e68844"/><text><tspan x="0" y="-8.2">plas &lt;= 129.5</tspan><tspan x="0" y="-1.2">samples = 19</tspan><tspan x="0" y="5.8">value = [18, 1]</tspan><tspan x="0" y="12.8">class = positive</tspan></text></g>
<g id="n93" class="nd" transform="translate(1014.2 270)"><rect x="-23.85" y="-15.5" width="47.7" height="31" fill="#f2c09c"/><text><tspan x="0" y="-8.2">skin &lt;= 23.0</tspan><tspan x="0" y="-1.2">samples = 3</tspan><tspan x="0" y="5.8">value = [2, 1]</tspan><tspan x="0" y="12.8">class = positive</tspan></text></g>
<g id="n94" class="nd" transform="translate(990.8 317.2)"><rect class="o" x="-23.5" y="-12" width="47" height="24"/><text><tspan x="0" y="-4.7">samples = 2</tspan><tspan x="0" y="2.3">value = [2, 0]</tspan><tspan x="0" y="9.3">class = positive</tspan></text></g>
<g id="n95" class="nd" transform="translate(1048 317.2)"><rect class="b" x="-24.7" y="-12" width="49.4" height="24"/><text><tspan x="0" y="-4.7">samples = 1</tspan><tspan x="0" y="2.3">value = [0, 1]</tspan><tspan x="0" y="9.3">class = negative</tspan></text></g>
<g id="n96" class="nd" transform="translate(1069.8 270)"><rect class="o" x="-23.5" y="-12" width="47" height="24"/><text><tspan x="0" y="-4.7">samples = 16</tspan><tspan x="0" y="2.3">value = [16, 0]</tspan><tspan x="0" y="9.3">class = positive</tspan></text></g>
<g id="n97" class="nd" transform="translate(1153.7 174.6)"><rect x="-25.35" y="-15.5" width="50.7" height="31" fill="#fbeade"/><text><tspan x="0" y="-8.2">insu &lt;= 14.5</tspan><tspan x="0" y="-1.2">samples = 22</tspan><tspan x="0" y="5.8">value = [12, 10]</tspan><tspan x="0" y="12.8">class = positive</tspan></text></g>
<g id="n98" class="nd" transform="translate(1153.3 222.2)"><rect x="-24" y="-15.5" width="48" height="31" fill="#eeab7b"/><text><tspan x="0" y="-8.2">mass &lt;= 27.6</tspan><tspan x="0" y="-1.2">samples = 12</tspan><tspan x="0" y="5.8">value = [9, 3]</tspan><tspan x="0" y="12.8">class = positive</tspan></text></g>
<g id="n99" class="nd" transform="translate(1126 270)"><rect class="w" x="-23.7" y="-15.5" width="47.4" height="31"/><text><tspan x="0" y="-8.2">age &lt;= 52.0</tspan><tspan x="0" y="-1.2">samples = 6</tspan><tspan x="0" y="5.8">value = [3, 3]</tspan><tspan x="0" y="12.8">class = positive</tspan></text></g>
<g id="n100" class="nd" transform="translate(1118 317.2)"><rect class="b" x="-24.7" y="-12" width="49.4" height="24"/><text><tspan x="0" y="-4.7">samples = 3</tspan><tspan x="0" y="2.3">value = [0, 3]</tspan><tspan x="0" y="9.3">class = negative</tspan></text></g>
<g id="n101" class="nd" transform="translate(1174.3 317.2)"><rect class="o" x="-24" y="-12" width="48" height="24"/><text><tspan x="0" y="-4.7">samples = 3</tspan><tspan x="0" y="2.3">value = [3, 0]</tspan><tspan x="0" y="9.3">class = positive</tspan></text></g>
<g id="n102" class="nd" transform="translate(1181.5 270)"><rect class="o" x="-24.2" y="-12" width="48.4" height="24"/><text><tspan x="0" y="-4.7">samples = 6</tspan><tspan x="0" y="2.3">value = [6, 0]</tspan><tspan x="0" y="9.3">class = positive</tspan></text></g>
<g id="n103" class="nd" transform="translate(1237.2 222.2)"><rect x="-24.5" y="-15.5" width="49" height="31" fill="#8ec7f0"/><text><tspan x="0" y="-8.2">age &lt;= 26.5</tspan><tspan x="0" y="-1.2">samples = 10</tspan><tspan x="0" y="5.8">value = [3, 7]</tspan><tspan x="0" y="12.8">class = negative</tspan></text></g>
<g id="n104" class="nd" transform="translate(1237.5 270)"><rect class="o" x="-24.2" y="-12" width="48.4" height="24"/><text><tspan x="0" y="-4.7">samples = 2</tspan><tspan x="0" y="2.3">value = [2, 0]</tspan><tspan x="0" y="9.3">class = positive</tspan></text></g>
<g id="n105" class="nd" transform="translate(1294 270)"><rect x="-24.7" y="-15.5" width="49.4" height="31" fill="#55abe9"/><text><tspan x="0" y="-8.2">pedi &lt;= 0.785</tspan><tspan x="0" y="-1.2">samples = 8</tspan><tspan x="0" y="5.8">value = [1, 7]</tspan><tspan x="0" y="12.8">class = negative</tspan></text></g>
<g id="n106" class="nd" transform="translate(1237.2 317.2)"><rect class="b" x="-24.5" y="-12" width="49" height="24"/><text><tspan x="0" y="-4.7">samples = 7</tspan><tspan x="0" y="2.3">value = [0, 7]</tspan><tspan x="0" y="9.3">class = negative</tspan></text></g>
<g id="n107" class="nd" transform="translate(1294.2 317.2)"><rect class="o" x="-23.85" y="-12" width="47.7" height="24"/><text><tspan x="0" y="-4.7">samples = 1</tspan><tspan x="0" y="2.3">value = [1, 0]</tspan><tspan x="0" y="9.3">class = positive</tspan></text></g>
<g id="n108" class="nd" transform="translate(1490.8 126.6)"><rect x="-25.5" y="-15.5" width="51" height="31" fill="#7cbeee"/><text><tspan x="0" y="-8.2">plas &lt;= 155.5</tspan><tspan x="0" y="-1.2">samples = 118</tspan><tspan x="0" y="5.8">value = [30, 88]</tspan><tspan x="0" y="12.8">class = negative</tspan></text></g>
<g id="n109" class="nd" transform="translate(1490.8 174.6)"><rect x="-25.5" y="-15.5" width="51" height="31" fill="#b5daf5"/><text><tspan x="0" y="-8.2">pedi &lt;= 0.4</tspan><tspan x="0" y="-1.2">samples = 65</tspan><tspan x="0" y="5.8">value = [25, 40]</tspan><tspan x="0" y="12.8">class = negative</tspan></text></g>
<g id="n110" class="nd" transform="translate(1462 222.2)"><rect x="-24.7" y="-15.5" width="49.4" height="31" fill="#f6d3b9"/><text><tspan x="0" y="-8.2">mass &lt;= 45.8</tspan><tspan x="0" y="-1.2">samples = 28</tspan><tspan x="0" y="5.8">value = [17, 11]</tspan><tspan x="0" y="12.8">class = positive</tspan></text></g>
<g id="n111" class="nd" transform="translate(1405.5 270)"><rect x="-23.8" y="-15.5" width="47.6" height="31" fill="#f0b58b"/><text><tspan x="0" y="-8.2">insu &lt;= 295.0</tspan><tspan x="0" y="-1.2">samples = 24</tspan><tspan x="0" y="5.8">value = [17, 7]</tspan><tspan x="0" y="12.8">class = positive</tspan></text></g>
<g id="n112" class="nd" transform="translate(1350.3 317.2)"><rect x="-24" y="-15.5" width="48" height="31" fill="#eb9f68"/><text><tspan x="0" y="-8.2">pres &lt;= 67.0</tspan><tspan x="0" y="-1.2">samples = 21</tspan><tspan x="0" y="5.8">value = [17, 4]</tspan><tspan x="0" y="12.8">class = positive</tspan></text></g>
<g id="n113" class="nd" transform="translate(1321.8 364.5)"><rect x="-24.5" y="-15.5" width="49" height="31" fill="#9ccef2"/><text><tspan x="0" y="-8.2">mass &lt;= 36.7</tspan><tspan x="0" y="-1.2">samples = 3</tspan><tspan x="0" y="5.8">value = [1, 2]</tspan><tspan x="0" y="12.8">class = negative</tspan></text></g>
<g id="n114" class="nd" transform="translate(1264.8 412.5)"><rect class="b" x="-24.5" y="-12" width="49" height="24"/><text><tspan x="0" y="-4.7">samples = 2</tspan><tspan x="0" y="2.3">value = [0, 2]</tspan><tspan x="0" y="9.3">class = negative</tspan></text></g>
<g id="n115" class="nd" transform="translate(1321.7 412.5)"><rect class="o" x="-24" y="-12" width="48" height="24"/><text><tspan x="0" y="-4.7">samples = 1</tspan><tspan x="0" y="2.3">value = [1, 0]</tspan><tspan x="0" y="9.3">class = positive</tspan></text></g>
<g id="n116" class="nd" transform="translate(1378.5 364.5)"><rect x="-24.2" y="-15.5" width="48.4" height="31" fill="#e89152"/><text><tspan x="0" y="-8.2">age &lt;= 57.5</tspan><tspan x="0" y="-1.2">samples = 18</tspan><tspan x="0" y="5.8">value = [16, 2]</tspan><tspan x="0" y="12.8">class = positive</tspan></text></g>
<g id="n117" class="nd" transform="translate(1378 412.5)"><rect x="-23.7" y="-15.5" width="47.4" height="31" fill="#e78945"/><text><tspan x="0" y="-8.2">skin &lt;= 40.0</tspan><tspan x="0" y="-1.2">samples = 17</tspan><tspan x="0" y="5.8">value = [16, 1]</tspan><tspan x="0" y="12.8">class = positive</tspan></text></g>
<g id="n118" class="nd" transform="translate(1350 459.8)"><rect class="o" x="-23.7" y="-12" width="47.4" height="24"/><text><tspan x="0" y="-4.7">samples = 13</tspan><tspan x="0" y="2.3">value = [13, 0]</tspan><tspan x="0" y="9.3">class = positive</tspan></text></g>
<g id="n119" class="nd" transform="translate(1405.3 459.8)"><rect x="-24" y="-15.5" width="48" height="31" fill="#eeab7b"/><text><tspan x="0" y="-8.2">pedi &lt;= 0.331</tspan><tspan x="0" y="-1.2">samples = 4</tspan><tspan x="0" y="5.8">value = [3, 1]</tspan><tspan x="0" y="12.8">class = positive</tspan></text></g>
<g id="n120" class="nd" transform="translate(1377.2 507.8)"><rect class="b" x="-24.5" y="-12" width="49" height="24"/><text><tspan x="0" y="-4.7">samples = 1</tspan><tspan x="0" y="2.3">value = [0, 1]</tspan><tspan x="0" y="9.3">class = negative</tspan></text></g>
<g id="n121" class="nd" transform="translate(1433.7 507.8)"><rect class="o" x="-23.65" y="-12" width="47.3" height="24"/><text><tspan x="0" y="-4.7">samples = 3</tspan><tspan x="0" y="2.3">value = [3, 0]</tspan><tspan x="0" y="9.3">class = positive</tspan></text></g>
<g id="n122" class="nd" transform="translate(1435 412.5)"><rect class="b" x="-24.3" y="-12" width="48.6" height="24"/><text><tspan x="0" y="-4.7">samples = 1</tspan><tspan x="0" y="2.3">value = [0, 1]</tspan><tspan x="0" y="9.3">class = negative</tspan></text></g>
<g id="n123" class="nd" transform="translate(1407.2 317.2)"><rect class="b" x="-24.5" y="-12" width="49" height="24"/><text><tspan x="0" y="-4.7">samples = 3</tspan><tspan x="0" y="2.3">value = [0, 3]</tspan><tspan x="0" y="9.3">class = negative</tspan></text></g>
<g id="n124" class="nd" transform="translate(1462.5 270)"><rect class="b" x="-24.2" y="-12" width="48.4" height="24"/><text><tspan x="0" y="-4.7">samples = 4</tspan><tspan x="0" y="2.3">value = [0, 4]</tspan><tspan x="0" y="9.3">class = negative</tspan></text></g>
<g id="n125" class="nd" transform="translate(1520 222.2)"><rect x="-24.3" y="-15.5" width="48.6" height="31" fill="#70b8ec"/><text><tspan x="0" y="-8.2">pres &lt;= 79.0</tspan><tspan x="0" y="-1.2">samples = 37</tspan><tspan x="0" y="5.8">value = [8, 29]</tspan><tspan x="0" y="12.8">class = negative</tspan></text></g>
<g id="n126" class="nd" transform="translate(1520 270)"><rect x="-24.3" y="-15.5" width="48.6" height="31" fill="#42a2e6"/><text><tspan x="0" y="-8.2">insu &lt;= 306.5</tspan><tspan x="0" y="-1.2">samples = 22</tspan><tspan x="0" y="5.8">value = [1, 21]</tspan><tspan x="0" y="12.8">class = negative</tspan></text></g>
<g id="n127" class="nd" transform="translate(1463.8 317.2)"><rect class="b" x="-24.5" y="-12" width="49" height="24"/><text><tspan x="0" y="-4.7">samples = 20</tspan><tspan x="0" y="2.3">value = [0, 20]</tspan><tspan x="0" y="9.3">class = negative</tspan></text></g>
<g id="n128" class="nd" transform="translate(1520.5 317.2)"><rect class="w" x="-23.8" y="-15.5" width="47.6" height="31"/><text><tspan x="0" y="-8.2">age &lt;= 44.0</tspan><tspan x="0" y="-1.2">samples = 2</tspan><tspan x="0" y="5.8">value = [1, 1]</tspan><tspan x="0" y="12.8">class = positive</tspan></text></g>
<g id="n129" class="nd" transform="translate(1477.5 364.5)"><rect class="o" x="-24.2" y="-12" width="48.4" height="24"/><text><tspan x="0" y="-4.7">samples = 1</tspan><tspan x="0" y="2.3">value = [1, 0]</tspan><tspan x="0" y="9.3">class = positive</tspan></text></g>
<g id="n130" class="nd" transform="translate(1533.8 364.5)"><rect class="b" x="-24.5" y="-12" width="49" height="24"/><text><tspan x="0" y="-4.7">samples = 1</tspan><tspan x="0" y="2.3">value = [0, 1]</tspan><tspan x="0" y="9.3">class = negative</tspan></text></g>
<g id="n131" class="nd" transform="translate(1576.8 270)"><rect x="-24.5" y="-15.5" width="49" height="31" fill="#e6f3fc"/><text><tspan x="0" y="-8.2">age &lt;= 30.5</tspan><tspan x="0" y="-1.2">samples = 15</tspan><tspan x="0" y="5.8">value = [7, 8]</tspan><tspan x="0" y="12.8">class = negative</tspan></text></g>
<g id="n132" class="nd" transform="translate(1576.5 317.2)"><rect class="o" x="-23.8" y="-12" width="47.6" height="24"/><text><tspan x="0" y="-4.7">samples = 4</tspan><tspan x="0" y="2.3">value = [4, 0]</tspan><tspan x="0" y="9.3">class = positive</tspan></text></g>
<g id="n133" class="nd" transform="translate(1633.3 317.2)"><rect x="-24.65" y="-15.5" width="49.3" height="31" fill="#83c2ef"/><text><tspan x="0" y="-8.2">plas &lt;= 132.5</tspan><tspan x="0" y="-1.2">samples = 11</tspan><tspan x="0" y="5.8">value = [3, 8]</tspan><tspan x="0" y="12.8">class = negative</tspan></text></g>
<g id="n134" class="nd" transform="translate(1606.2 364.5)"><rect class="b" x="-24.5" y="-12" width="49" height="24"/><text><tspan x="0" y="-4.7">samples = 5</tspan><tspan x="0" y="2.3">value = [0, 5]</tspan><tspan x="0" y="9.3">class = negative</tspan></text></g>
<g id="n135" class="nd" transform="translate(1662.5 364.5)"><rect class="w" x="-24.2" y="-15.5" width="48.4" height="31"/><text><tspan x="0" y="-8.2">plas &lt;= 138.0</tspan><tspan x="0" y="-1.2">samples = 6</tspan><tspan x="0" y="5.8">value = [3, 3]</tspan><tspan x="0" y="12.8">class = positive</tspan></text></g>
<g id="n136" class="nd" transform="translate(1654.8 412.5)"><rect class="o" x="-23.5" y="-12" width="47" height="24"/><text><tspan x="0" y="-4.7">samples = 2</tspan><tspan x="0" y="2.3">value = [2, 0]</tspan><tspan x="0" y="9.3">class = positive</tspan></text></g>
<g id="n137" class="nd" transform="translate(1711.8 412.5)"><rect x="-24.5" y="-15.5" width="49" height="31" fill="#7bbeee"/><text><tspan x="0" y="-8.2">age &lt;= 35.5</tspan><tspan x="0" y="-1.2">samples = 4</tspan><tspan x="0" y="5.8">value = [1, 3]</tspan><tspan x="0" y="12.8">class = negative</tspan></text></g>
<g id="n138" class="nd" transform="translate(1683.3 459.8)"><rect class="o" x="-24" y="-12" width="48" height="24"/><text><tspan x="0" y="-4.7">samples = 1</tspan><tspan x="0" y="2.3">value = [1, 0]</tspan><tspan x="0" y="9.3">class = positive</tspan></text></g>
<g id="n139" class="nd" transform="translate(1739.8 459.8)"><rect class="b" x="-24.5" y="-12" width="49" height="24"/><text><tspan x="0" y="-4.7">samples = 3</tspan><tspan x="0" y="2.3">value = [0, 3]</tspan><tspan x="0" y="9.3">class = negative</tspan></text></g>
<g id="n140" class="nd" transform="translate(1718 174.6)"><rect x="-24.7" y="-15.5" width="49.4" height="31" fill="#4ea7e8"/><text><tspan x="0" y="-8.2">age &lt;= 44.5</tspan><tspan x="0" y="-1.2">samples = 53</tspan><tspan x="0" y="5.8">value = [5, 48]</tspan><tspan x="0" y="12.8">class = negative</tspan></text></g>
<g id="n141" class="nd" transform="translate(1718 222.2)"><rect x="-24.7" y="-15.5" width="49.4" height="31" fill="#3ea0e6"/><text><tspan x="0" y="-8.2">pres &lt;= 65.0</tspan><tspan x="0" y="-1.2">samples = 38</tspan><tspan x="0" y="5.8">value = [1, 37]</tspan><tspan x="0" y="12.8">class = negative</tspan></text></g>
<g id="n142" class="nd" transform="translate(1690 270)"><rect x="-24.3" y="-15.5" width="48.6" height="31" fill="#52a9e8"/><text><tspan x="0" y="-8.2">pedi &lt;= 0.277</tspan><tspan x="0" y="-1.2">samples = 9</tspan><tspan x="0" y="5.8">value = [1, 8]</tspan><tspan x="0" y="12.8">class = negative</tspan></text></g>
<g id="n143" class="nd" transform="translate(1689.8 317.2)"><rect class="o" x="-23.5" y="-12" width="47" height="24"/><text><tspan x="0" y="-4.7">samples = 1</tspan><tspan x="0" y="2.3">value = [1, 0]</tspan><tspan x="0" y="9.3">class = positive</tspan></text></g>
<g id="n144" class="nd" transform="translate(1747.2 317.2)"><rect class="b" x="-24.5" y="-12" width="49" height="24"/><text><tspan x="0" y="-4.7">samples = 8</tspan><tspan x="0" y="2.3">value = [0, 8]</tspan><tspan x="0" y="9.3">class = negative</tspan></text></g>
<g id="n145" class="nd" transform="translate(1747.2 270)"><rect class="b" x="-24.5" y="-12" width="49" height="24"/><text><tspan x="0" y="-4.7">samples = 29</tspan><tspan x="0" y="2.3">value = [0, 29]</tspan><tspan x="0" y="9.3">class = negative</tspan></text></g>
<g id="n146" class="nd" transform="translate(1803.8 222.2)"><rect x="-24.5" y="-15.5" width="49" height="31" fill="#81c1ee"/><text><tspan x="0" y="-8.2">pedi &lt;= 1.157</tspan><tspan x="0" y="-1.2">samples = 15</tspan><tspan x="0" y="5.8">value = [4, 11]</tspan><tspan x="0" y="12.8">class = negative</tspan></text></g>
<g id="n147" class="nd" transform="translate(1803.8 270)"><rect x="-24.5" y="-15.5" width="49" height="31" fill="#5dafea"/><text><tspan x="0" y="-8.2">skin &lt;= 42.0</tspan><tspan x="0" y="-1.2">samples = 13</tspan><tspan x="0" y="5.8">value = [2, 11]</tspan><tspan x="0" y="12.8">class = negative</tspan></text></g>
<g id="n148" class="nd" transform="translate(1803.8 317.2)"><rect x="-24.5" y="-15.5" width="49" height="31" fill="#4ba6e7"/><text><tspan x="0" y="-8.2">pres &lt;= 92.5</tspan><tspan x="0" y="-1.2">samples = 12</tspan><tspan x="0" y="5.8">value = [1, 11]</tspan><tspan x="0" y="12.8">class = negative</tspan></text></g>
<g id="n149" class="nd" transform="translate(1754 364.5)"><rect class="b" x="-24.3" y="-12" width="48.6" height="24"/><text><tspan x="0" y="-4.7">samples = 10</tspan><tspan x="0" y="2.3">value = [0, 10]</tspan><tspan x="0" y="9.3">class = negative</tspan></text></g>
<g id="n150" class="nd" transform="translate(1811 364.5)"><rect class="w" x="-23.7" y="-15.5" width="47.4" height="31"/><text><tspan x="0" y="-8.2">age &lt;= 56.0</tspan><tspan x="0" y="-1.2">samples = 2</tspan><tspan x="0" y="5.8">value = [1, 1]</tspan><tspan x="0" y="12.8">class = positive</tspan></text></g>
<g id="n151" class="nd" transform="translate(1769 412.5)"><rect class="b" x="-24.3" y="-12" width="48.6" height="24"/><text><tspan x="0" y="-4.7">samples = 1</tspan><tspan x="0" y="2.3">value = [0, 1]</tspan><tspan x="0" y="9.3">class = negative</tspan></text></g>
<g id="n152" class="nd" transform="translate(1825.5 412.5)"><rect class="o" x="-24.2" y="-12" width="48.4" height="24"/><text><tspan x="0" y="-4.7">samples = 1</tspan><tspan x="0" y="2.3">value = [1, 0]</tspan><tspan x="0" y="9.3">class = positive</tspan></text></g>
<g id="n153" class="nd" transform="translate(1860.5 317.2)"><rect class="o" x="-23.8" y="-12" width="47.6" height="24"/><text><tspan x="0" y="-4.7">samples = 1</tspan><tspan x="0" y="2.3">value = [1, 0]</tspan><tspan x="0" y="9.3">class = positive</tspan></text></g>
<g id="n154" class="nd" transform="translate(1861 270)"><rect class="o" x="-23.3" y="-12" width="46.6" height="24"/><text><tspan x="0" y="-4.7">samples = 2</tspan><tspan x="0" y="2.3">value = [2, 0]</tspan><tspan x="0" y="9.3">class = positive</tspan></text></g>
</svg>
